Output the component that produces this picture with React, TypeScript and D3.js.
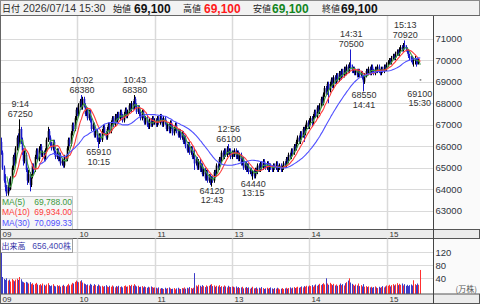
import React from 'react';
import * as d3 from 'd3';

type Bar = [number, number, number, number]; // open, high, low, close

const bars09: Bar[] = [
  [66200,66400,65600,65700],[65700,65800,64900,65000],[65000,65100,64300,64400],[64400,64700,63900,64100],[64100,64200,63650,63800],
  [63800,64300,63700,64200],[64200,64500,63900,64000],[64000,64600,63950,64500],[64500,65100,64400,65000],[65000,65600,64900,65500],
  [65500,65700,65100,65200],[65200,66000,65150,65900],[65900,66500,65800,66400],[66400,66600,65900,66100],[66100,67250,66000,66800],
  [66800,66900,66100,66300],[66300,66400,65600,65800],[65800,65900,65100,65300],[65300,65800,65200,65600],[65600,65700,64800,64900],
  [64900,65000,64200,64400],[64400,64900,64300,64700],[64700,64800,63900,64200],[64200,64700,64100,64600],[64600,65200,64500,65100],
  [65100,65200,64700,64900],[64900,65600,64800,65500],[65500,65900,65400,65800],[65800,65900,65300,65400],[65400,66000,65300,65900],
  [65900,66100,65800,66000],[66000,66100,65500,65600],[65600,65800,65500,65700],[65700,65800,65300,65400],[65400,65900,65300,65800],
  [65800,66400,65700,66300],[66300,66900,66200,66700],[66700,66800,66300,66400],[66400,66500,66000,66100],[66100,66200,65800,65900],
  [65900,66300,65800,66200],[66200,66300,65600,65700],[65700,65800,65400,65500],[65500,65900,65400,65800],[65800,65900,65300,65400],
  [65400,65700,65300,65600],[65600,65700,65100,65200],[65200,65400,65100,65300],[65300,65400,65000,65100],[65100,65600,65000,65500],
  [65500,65600,65300,65400],[65400,66000,65300,65900],[65900,66400,65800,66300],[66300,66400,66000,66100],[66100,66700,66000,66600],
  [66600,67100,66500,67000],[67000,67100,66700,66800],[66800,67400,66700,67300],[67300,67800,67200,67700],[67700,67800,67400,67500],
];

const bars10: Bar[] = [
  [67500,68000,67400,67900],[67900,68200,67800,68100],[68100,68380,67700,67800],[67800,68300,67700,68200],[68200,68300,67800,67900],
  [67900,68000,67400,67500],[67500,67800,67400,67700],[67700,67800,67200,67300],[67300,67700,67200,67600],[67600,67700,67100,67200],
  [67200,67300,66700,66800],[66800,67100,66700,67000],[67000,67100,66400,66500],[66500,66800,66400,66700],[66700,66800,66200,66300],
  [66300,66400,65910,66200],[66200,66600,66100,66500],[66500,66600,66200,66300],[66300,66800,66200,66700],[66700,67000,66600,66900],
  [66900,67000,66500,66600],[66600,66700,66300,66400],[66400,66900,66300,66800],[66800,67100,66700,67000],[67000,67100,66600,66700],
  [66700,67200,66600,67100],[67100,67400,67000,67300],[67300,67400,66900,67000],[67000,67500,66900,67400],[67400,67500,67100,67200],
  [67200,67600,67100,67500],[67500,67600,67200,67300],[67300,67700,67200,67600],[67600,67700,67300,67400],[67400,67500,67100,67200],
  [67200,67600,67100,67500],[67500,67800,67400,67700],[67700,67800,67300,67400],[67400,67700,67300,67600],[67600,68000,67500,67900],
  [67900,68000,67600,67700],[67700,68100,67600,68000],[68000,68100,67700,67800],[67800,68380,67700,68200],[68200,68300,67800,67900],
  [67900,68000,67500,67600],[67600,67900,67500,67800],[67800,67900,67400,67500],[67500,67600,67200,67300],[67300,67700,67200,67600],
  [67600,67700,67300,67400],[67400,67500,67000,67100],[67100,67400,67000,67300],[67300,67400,66900,67000],[67000,67100,66800,66900],
  [66900,67300,66800,67200],[67200,67300,66900,67000],[67000,67400,66900,67300],[67300,67400,67000,67100],[67100,67300,67000,67200],
];

const bars11: Bar[] = [
  [67200,67300,66900,67000],[67000,67400,66900,67300],[67300,67400,67000,67100],[67100,67500,67000,67400],[67400,67500,67100,67200],
  [67200,67300,66900,67000],[67000,67400,66900,67300],[67300,67400,67000,67100],[67100,67200,66700,66800],[66800,67100,66700,67000],
  [67000,67100,66600,66700],[66700,67200,66600,67100],[67100,67200,66800,66900],[66900,67000,66500,66600],[66600,66900,66500,66800],
  [66800,67100,66700,67000],[67000,67100,66600,66700],[66700,66800,66400,66500],[66500,66800,66400,66700],[66700,66800,66300,66400],
  [66400,66700,66300,66600],[66600,66700,66100,66200],[66200,66500,66100,66400],[66400,66500,65900,66000],[66000,66100,65700,65800],
  [65800,66200,65700,66100],[66100,66200,65600,65700],[65700,66000,65600,65900],[65900,66000,65400,65500],[65500,65700,65400,65600],
];

const bars12: Bar[] = [
  [65600,65900,64900,65200],[65200,65500,65100,65400],[65400,65500,64900,65000],[65000,65400,64900,65300],[65300,65400,64800,64900],
  [64900,65200,64800,65100],[65100,65200,64600,64700],[64700,65000,64600,64900],[64900,65000,64400,64500],[64500,64900,64400,64800],
  [64800,64900,64300,64400],[64400,64700,64300,64600],[64600,64700,64200,64300],[64300,64600,64120,64500],[64500,64600,64300,64400],
  [64400,64900,64300,64800],[64800,64900,64600,64700],[64700,65200,64600,65100],[65100,65200,64900,65000],[65000,65500,64900,65400],
  [65400,65500,65200,65300],[65300,65800,65200,65700],[65700,65800,65400,65500],[65500,65900,65400,65800],[65800,65900,65500,65600],
  [65600,66000,65500,65900],[65900,66100,65600,65700],[65700,65900,65600,65800],[65800,65900,65400,65500],[65500,65800,65400,65700],
];

const bars13: Bar[] = [
  [65700,65800,65500,65600],[65600,65900,65500,65800],[65800,65900,65400,65500],[65500,65800,65400,65700],[65700,65800,65300,65400],
  [65400,65700,65300,65600],[65600,65700,65100,65200],[65200,65500,65100,65400],[65400,65500,64900,65000],[65000,65300,64900,65200],
  [65200,65300,64800,64900],[64900,65200,64800,65100],[65100,65200,64700,64800],[64800,65000,64700,64900],[64900,65000,64600,64700],
  [64700,64900,64440,64800],[64800,64900,64500,64600],[64600,65000,64500,64900],[64900,65000,64700,64800],[64800,65200,64700,65100],
  [65100,65200,64800,64900],[64900,65300,64800,65200],[65200,65300,64900,65000],[65000,65400,64900,65300],[65300,65400,65000,65100],
  [65100,65200,64900,65000],[65000,65300,64900,65200],[65200,65300,64800,64900],[64900,65200,64800,65100],[65100,65200,64900,65000],
  [65000,65100,64800,64900],[64900,65200,64800,65100],[65100,65200,64900,65000],[65000,65300,64900,65200],[65200,65300,64800,64900],
  [64900,65100,64800,65000],[65000,65200,64900,65100],[65100,65200,64800,64900],[64900,65100,64800,65000],[65000,65300,64900,65200],
  [65200,65300,65000,65100],[65100,65500,65000,65400],[65400,65500,65200,65300],[65300,65700,65200,65600],[65600,65700,65400,65500],
  [65500,65900,65400,65800],[65800,65900,65600,65700],[65700,66100,65600,66000],[66000,66100,65800,65900],[65900,66300,65800,66200],
  [66200,66500,66100,66400],[66400,66500,66100,66200],[66200,66700,66100,66600],[66600,66700,66300,66500],[66500,66900,66400,66800],
  [66800,66900,66200,66600],[66600,67000,66500,66900],[66900,67200,66800,67100],[67100,67200,66800,66900],[66900,67300,66800,67200],
];

const bars14: Bar[] = [
  [67200,67400,67000,67300],[67300,67400,66900,67100],[67100,67500,67000,67400],[67400,67700,67300,67600],[67600,67700,67300,67400],
  [67400,67900,67300,67800],[67800,67900,67500,67600],[67600,68000,67500,67900],[67900,68300,67800,68200],[68200,68300,67900,68000],
  [68000,68500,67900,68400],[68400,68800,68300,68700],[68700,68800,68400,68500],[68500,69000,68400,68900],[68900,69000,68000,68600],
  [68600,69000,68500,68900],[68900,69200,68800,69100],[69100,69200,68700,68800],[68800,69300,68700,69200],[69200,69300,68900,69000],
  [69000,69400,68900,69300],[69300,69400,69000,69100],[69100,69500,69000,69400],[69400,69500,69100,69200],[69200,69600,69100,69500],
  [69500,69600,69200,69300],[69300,69700,69200,69600],[69600,69700,69300,69400],[69400,69800,69300,69700],[69700,69800,69400,69500],
  [69500,69900,69400,69800],[69800,70500,69600,69700],[69700,69800,69400,69500],[69500,69700,69400,69600],[69600,69700,69300,69400],
  [69400,69600,69300,69500],[69500,69600,69200,69300],[69300,69600,69200,69500],[69500,69600,69200,69300],[69300,69500,69200,69400],
  [69400,69500,69100,69200],[69200,69300,68550,69000],[69000,69400,68900,69300],[69300,69600,69200,69500],[69500,69600,69300,69400],
  [69400,69700,69300,69600],[69600,69700,69300,69400],[69400,69800,69300,69700],[69700,69800,69400,69500],[69500,69600,69300,69400],
  [69400,69700,69300,69600],[69600,69700,69400,69500],[69500,69800,69400,69700],[69700,69800,69400,69500],[69500,69600,69300,69400],
  [69400,69700,69300,69600],[69600,69700,69400,69500],[69500,69800,69400,69700],[69700,69800,69500,69600],[69600,69900,69500,69800],
];

const bars15: Bar[] = [
  [69800,70000,69700,69900],[69900,70100,69800,70000],[70000,70100,69800,69900],[69900,70200,69800,70100],[70100,70300,70000,70200],
  [70200,70300,70000,70100],[70100,70400,70000,70300],[70300,70500,70200,70400],[70400,70500,70200,70300],[70300,70600,70200,70500],
  [70500,70700,70400,70600],[70600,70700,70400,70500],[70500,70800,70400,70700],[70700,70920,70500,70600],[70600,70700,70400,70500],
  [70500,70600,70300,70440],[70440,70500,70100,70200],[70200,70300,70000,70150],[70150,70200,69900,70050],[70050,70200,69800,70000],
  [70000,70100,69700,70000],[70000,70200,69800,70000],[70000,70100,69700,69950],[69950,70100,69800,69900],[69900,70100,69800,69990],
  [69100,69100,69100,69100],
];

// volume in 万株
const vol09 = [135,44,38,35,40,33,36,30,38,34,31,36,39,35,44,37,30,28,26,29,27,24,28,22,25,20,23,26,21,19,22,18,24,20,17,21,25,19,16,18,22,17,15,19,16,18,14,17,20,16,15,19,23,18,21,26,24,29,33,30];
const vol10 = [28,31,34,27,24,22,19,21,18,23,20,17,22,19,16,21,18,15,17,14,16,19,15,13,17,14,18,15,12,16,14,17,13,15,12,16,18,14,15,19,16,20,17,22,18,15,17,13,14,16,12,15,13,11,14,12,15,13,11,12];
const vol11 = [11,9,12,8,10,9,7,11,8,10,12,9,7,8,10,6,9,11,8,7,10,9,12,8,11,9,13,10,8,11];
const vol12 = [56,18,15,20,17,14,19,16,13,18,15,17,20,22,16,18,14,17,15,19,13,16,14,18,15,12,17,14,13,15];
const vol13 = [14,12,15,11,13,10,12,14,9,11,13,10,12,8,11,14,9,10,12,8,11,9,13,10,7,9,11,8,10,12,9,7,10,8,11,9,6,8,10,7,9,11,8,10,12,9,11,13,10,12,14,11,13,15,12,16,14,17,15,18];
const vol14 = [16,19,14,18,21,17,20,23,19,22,25,21,40,24,20,26,22,19,23,18,21,17,20,24,19,22,18,25,28,33,40,27,23,20,17,21,18,24,16,19,15,22,14,16,13,15,12,14,11,13,15,12,10,14,11,13,16,12,15,18];
const vol15 = [17,20,15,19,22,18,21,25,19,23,20,24,18,22,17,20,16,19,21,18,34,22,19,24,20,65.64];

const hourLabels = ['09', '10', '11', '13', '14', '15'];
const hourStarts = [0, 60, 120, 180, 240, 300];
const priceTicks = [63000, 64000, 65000, 66000, 67000, 68000, 69000, 70000, 71000];
const volTicks = [40, 80, 120];
const highNotes = [
  { idx: 14, time: '9:14' }, { idx: 62, time: '10:02' }, { idx: 103, time: '10:43' },
  { idx: 176, time: '12:56' }, { idx: 271, time: '14:31' }, { idx: 313, time: '15:13' },
];
const lowNotes = [
  { idx: 75, time: '10:15' }, { idx: 163, time: '12:43' }, { idx: 195, time: '13:15' }, { idx: 281, time: '14:41' },
];
const lastTime = '15:30';
const dateText = '2026/07/14';
const maPeriods = [5, 10, 30];
const maColors = ['#3d9a3d', '#ff3b3b', '#5050ff'];

const FONT = '"Liberation Sans", Arial, sans-serif';
const JFONT = '"Noto Sans CJK JP", sans-serif';

const W = 480, H = 304;
const plotR = 433.5;
const priceTop = 15.5, priceBot = 229.5;
const axis1Bot = 238.5, volBot = 294;

function movingAvg(vals: number[], n: number): (number | null)[] {
  return vals.map((_, i) => (i < n - 1 ? null : (d3.mean(vals.slice(i - n + 1, i + 1)) as number)));
}

export default function App() {
  const bars: Bar[] = [...bars09, ...bars10, ...bars11, ...bars12, ...bars13, ...bars14, ...bars15];
  const vols: number[] = [...vol09, ...vol10, ...vol11, ...vol12, ...vol13, ...vol14, ...vol15];
  const closes = bars.map((b) => b[3]);
  const last = bars[bars.length - 1];
  const lastIdx = bars.length - 1;

  const x = d3.scaleLinear().domain([0, 330]).range([0.2, 425.2]);
  const y = d3.scaleLinear().domain([63000, 71000]).range([210.7, 38.7]);
  const vy = d3.scaleLinear().domain([0, 40]).range([291.3, 278.3]);
  const bx = (i: number) => Math.round(x(i)) + 1.5;

  const mas = maPeriods.map((p) => movingAvg(closes, p));
  const line = d3
    .line<number | null>()
    .defined((v) => v != null)
    .x((_, i) => x(i) + 1.5)
    .y((v) => y(v as number));

  const fmt0 = d3.format(',');
  const fmt2 = d3.format(',.2f');
  const upCol = '#000000', downCol = '#1a1acc';
  const vUp = '#ff3030', vDown = '#3c3cc8';

  return (
    <svg width={W} height={H} style={{ position: 'absolute', left: 0, top: 0, background: '#fff' }} fontFamily={FONT}>
      <defs>
        <clipPath id="pc"><rect x={1} y={priceTop} width={plotR - 1} height={priceBot - priceTop} /></clipPath>
        <clipPath id="vc"><rect x={1} y={axis1Bot} width={plotR - 1} height={volBot - axis1Bot} /></clipPath>
      </defs>

      {/* header */}
      <rect x={0.5} y={0.5} width={W - 1} height={priceTop - 0.5} fill="#f2f2f2" stroke="#8a8a8a" />
      <g fontSize={9} fontFamily={JFONT} fill="#222">
        <text x={2} y={12}>日付</text>
        <text x={113} y={12}>始値</text>
        <text x={183} y={12}>高値</text>
        <text x={253} y={12}>安値</text>
        <text x={322} y={12}>終値</text>
      </g>
      <text x={23} y={12} fontSize={10.6} fill="#333">{dateText} {lastTime}</text>
      <g fontSize={12} fontWeight="bold">
        <text x={134} y={12.5} fill="#111">{fmt0(last[0])}</text>
        <text x={204} y={12.5} fill="#ff1a1a">{fmt0(last[1])}</text>
        <text x={272} y={12.5} fill="#12861e">{fmt0(last[2])}</text>
        <text x={341} y={12.5} fill="#111">{fmt0(last[3])}</text>
      </g>

      {/* right axis column */}
      <rect x={plotR} y={priceTop} width={W - plotR} height={H - priceTop} fill="#fafafa" />

      {/* price grid */}
      <g stroke="#dadada" strokeWidth={1}>
        {priceTicks.map((t) => (
          <line key={t} x1={1} x2={plotR} y1={Math.round(y(t)) + 0.5} y2={Math.round(y(t)) + 0.5} />
        ))}
        {hourStarts.slice(1).map((h) => (
          <line key={h} x1={Math.round(x(h)) + 0.5} x2={Math.round(x(h)) + 0.5} y1={priceTop} y2={priceBot} strokeWidth={1.5} />
        ))}
      </g>

      {/* candles */}
      <g clipPath="url(#pc)">
        {bars.map((b, i) => {
          const up = b[3] >= b[0];
          const c = up ? upCol : downCol;
          const cx = bx(i);
          return (
            <g key={i}>
              <line x1={cx} x2={cx} y1={y(b[1])} y2={y(b[2]) + 0.01} stroke={c} strokeWidth={1} />
              <rect x={cx - 0.8} width={1.6} y={Math.min(y(b[0]), y(b[3]))} height={Math.max(0.8, Math.abs(y(b[0]) - y(b[3])))} fill={c} />
            </g>
          );
        })}
        {mas.map((m, k) => (
          <path key={k} d={line(m) || ''} fill="none" stroke={maColors[k]} strokeWidth={1.1} />
        ))}
      </g>

      {/* annotations */}
      <g fontSize={9} fill="#333" textAnchor="middle">
        {highNotes.map((n) => {
          const hy = y(bars[n.idx][1]);
          return (
            <g key={n.time}>
              <text x={x(n.idx) + 2} y={hy - 12}>{n.time}</text>
              <text x={x(n.idx) + 2} y={hy - 2.5}>{bars[n.idx][1]}</text>
            </g>
          );
        })}
        {lowNotes.map((n) => {
          const ly = y(bars[n.idx][2]);
          return (
            <g key={n.time}>
              <text x={x(n.idx) + 2} y={ly + 7}>{bars[n.idx][2]}</text>
              <text x={x(n.idx) + 2} y={ly + 16.5}>{n.time}</text>
            </g>
          );
        })}
        <text x={x(lastIdx) + 1} y={y(last[3]) + 17}>{last[3]}</text>
        <text x={x(lastIdx) + 1} y={y(last[3]) + 26.5}>{lastTime}</text>
      </g>

      {/* MA legend */}
      <rect x={0.5} y={196.5} width={72} height={priceBot - 196.5} fill="#f4f4f4" fillOpacity={0.85} stroke="#c8c8c8" />
      <g fontSize={8.5}>
        {maPeriods.map((p, k) => {
          const m = mas[k][lastIdx] as number;
          const yy = 204.5 + k * 10.5;
          return (
            <g key={p} fill={maColors[k]}>
              <text x={2} y={yy}>MA({p})</text>
              <text x={72} y={yy} textAnchor="end">{fmt2(m)}</text>
            </g>
          );
        })}
      </g>

      {/* right price labels */}
      <g fontSize={9.5} fill="#2e3440">
        {priceTicks.map((t) => (
          <text key={t} x={435.5} y={y(t) + 3.5}>{t}</text>
        ))}
      </g>

      {/* axis row 1 */}
      <rect x={0.5} y={priceBot} width={W - 1} height={axis1Bot - priceBot} fill="#ececec" stroke="#555" />
      <g fontSize={8} fill="#333">
        {hourStarts.map((h, k) => (
          <text key={h} x={Math.round(x(h)) + 2.5} y={236.5}>{hourLabels[k]}</text>
        ))}
      </g>

      {/* volume grid */}
      <g stroke="#dadada" strokeWidth={1}>
        {volTicks.map((t) => (
          <line key={t} x1={1} x2={plotR} y1={Math.round(vy(t)) + 0.5} y2={Math.round(vy(t)) + 0.5} />
        ))}
        {hourStarts.slice(1).map((h) => (
          <line key={h} x1={Math.round(x(h)) + 0.5} x2={Math.round(x(h)) + 0.5} y1={axis1Bot} y2={volBot} strokeWidth={1.5} />
        ))}
      </g>

      {/* volume bars */}
      <g clipPath="url(#vc)">
        {vols.map((v, i) => {
          const up = bars[i][3] >= bars[i][0];
          return (
            <rect key={i} x={Math.round(x(i)) + 1} width={1} y={vy(v)} height={volBot - vy(v)} fill={up ? vUp : vDown} />
          );
        })}
      </g>

      {/* volume label */}
      <rect x={0.5} y={239} width={72} height={13.5} fill="#fff" stroke="#a0a0a0" />
      <text x={1.5} y={249} fontSize={8} fontFamily={JFONT} fill="#2a2aa0">出来高</text>
      <text x={71} y={249} fontSize={8.5} fill="#4646b0" textAnchor="end">
        {fmt0(Math.round(vols[lastIdx] * 10000))}
        <tspan fontFamily={JFONT} fontSize={8}>株</tspan>
      </text>

      {/* volume axis labels */}
      <g fontSize={9.5} fill="#2e3440">
        {volTicks.map((t) => (
          <text key={t} x={435.5} y={vy(t) + 3.5}>{t}</text>
        ))}
      </g>
      <text x={477} y={291.5} fontSize={8} fontFamily={JFONT} fill="#555" textAnchor="end">(万株)</text>

      {/* axis row 2 */}
      <rect x={0.5} y={volBot} width={W - 1} height={H - volBot - 0.5} fill="#ececec" stroke="#555" />
      <g fontSize={8} fill="#333">
        {hourStarts.map((h, k) => (
          <text key={h} x={Math.round(x(h)) + 2.5} y={302}>{hourLabels[k]}</text>
        ))}
      </g>

      {/* borders */}
      <line x1={plotR} x2={plotR} y1={priceTop} y2={H} stroke="#444" />
      <line x1={0.5} x2={0.5} y1={priceTop} y2={H} stroke="#666" />
      <line x1={0} x2={W} y1={priceTop} y2={priceTop} stroke="#666" />
    </svg>
  );
}
